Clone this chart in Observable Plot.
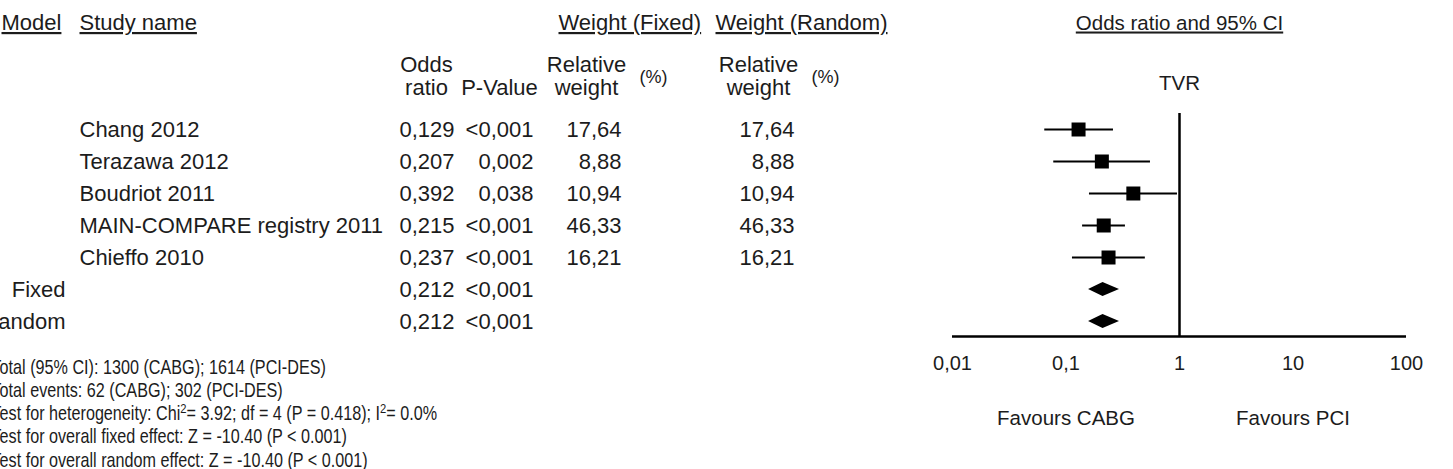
<!DOCTYPE html>
<html><head><meta charset="utf-8">
<script src="https://cdn.jsdelivr.net/npm/d3@7"></script>
<script src="https://cdn.jsdelivr.net/npm/@observablehq/plot@0.6"></script>
<style>
body{margin:0;background:#fff;}
#wrap{display:flex;width:1453px;height:469px;overflow:hidden;background:#fff;}
#wrap svg{display:block;max-width:none;flex:none;}
</style></head><body><div id="wrap"></div>
<script>
// ---------- data ----------
const studies = ["Chang 2012", "Terazawa 2012", "Boudriot 2011", "MAIN-COMPARE registry 2011", "Chieffo 2010"];
const oddsRatio = [0.129, 0.207, 0.392, 0.215, 0.237];
const pValue = ["<0,001", "0,002", "0,038", "<0,001", "<0,001"];
const weightFixed = [17.64, 8.88, 10.94, 46.33, 16.21];
const weightRandom = [17.64, 8.88, 10.94, 46.33, 16.21];
const ciLower = [0.065, 0.078, 0.161, 0.140, 0.114];
const ciUpper = [0.262, 0.555, 0.96, 0.334, 0.50];

const summaryModels = ["Fixed", "Random"];
const summaryOR = [0.212, 0.212];
const summaryP = ["<0,001", "<0,001"];
const summaryLower = [0.158, 0.158];
const summaryUpper = [0.296, 0.296];

const headerLabels = ["Model", "Study name", "Weight (Fixed)", "Weight (Random)"];
const columnTop = ["Odds", "Relative", "Relative"];
const columnBottom = ["ratio", "P-Value", "weight", "weight"];
const unitLabels = ["(%)", "(%)"];
const forestTitle = "Odds ratio and 95% CI";
const outcome = "TVR";
const axisTicks = [0.01, 0.1, 1, 10, 100];
const axisTickLabels = ["0,01", "0,1", "1", "10", "100"];
const favourLabels = ["Favours CABG", "Favours PCI"];
const favourAt = [0.1, 10];
const footerLines = [
  "Total (95% CI): 1300 (CABG); 1614 (PCI-DES)",
  "Total events: 62 (CABG); 302 (PCI-DES)",
  "Test for heterogeneity: Chi\u00B2= 3.92; df = 4 (P = 0.418); I\u00B2= 0.0%",
  "Test for overall fixed effect: Z = -10.40 (P < 0.001)",
  "Test for overall random effect: Z = -10.40 (P < 0.001)"
];

// ---------- layout ----------
const L = {
  headerX: [1, 79, 558, 715],
  topX: [426, 586, 758],
  bottomX: [426, 499, 586, 758],
  unitX: [653, 825],
  modelRight: 65, study: 79, or: 454, p: 533, wf: 621, wr: 794,
  rowHeader: -3.33, rowTop: -2.02, rowBottom: -1.30, rowUnit: -1.63, rowOutcome: -1.45,
  refTop: -0.5, axisRow: 6.47, tickRow: 7.31, favourRow: 9.03,
  footerX: -9, footerRow0: 7.44, footerStep: 0.725, diamondHalf: 0.22,
  footerSqueeze: 0.83
};
const font = "Liberation Sans, Arial, sans-serif";
const ink = "#1c1c1c";

const loc = d3.formatLocale({decimal: ",", thousands: ".", grouping: [3], currency: ["", ""]});
const f3 = loc.format(".3f"), f2 = loc.format(".2f");

const rows = studies.map((s, i) => ({label: s, or: oddsRatio[i], p: pValue[i], wf: weightFixed[i], wr: weightRandom[i], lo: ciLower[i], hi: ciUpper[i], row: i}));
const summ = summaryModels.map((m, i) => ({label: m, or: summaryOR[i], p: summaryP[i], lo: summaryLower[i], hi: summaryUpper[i], row: studies.length + i}));
const allRows = rows.concat(summ);

const yScale = {domain: [0, 6], range: [129, 321], axis: null};
const TS = 22; // table font size

// ---------- table ----------
const table = Plot.plot({
  width: 900, height: 469, margin: 0,
  x: {type: "identity", axis: null},
  y: yScale,
  style: {fontFamily: font, fontSize: TS + "px", color: ink, background: "white"},
  marks: [
    Plot.text(headerLabels, {x: (d, i) => L.headerX[i], y: () => L.rowHeader, text: d => d, textAnchor: "start", fontSize: TS}),
    Plot.text(columnTop, {x: (d, i) => L.topX[i], y: () => L.rowTop, text: d => d, fontSize: TS}),
    Plot.text(columnBottom, {x: (d, i) => L.bottomX[i], y: () => L.rowBottom, text: d => d, fontSize: TS}),
    Plot.text(unitLabels, {x: (d, i) => L.unitX[i], y: () => L.rowUnit, text: d => d, fontSize: 18}),
    Plot.text(rows, {x: () => L.study, y: "row", text: "label", textAnchor: "start", fontSize: TS}),
    Plot.text(summ, {x: () => L.modelRight, y: "row", text: "label", textAnchor: "end", fontSize: TS}),
    Plot.text(allRows, {x: () => L.or, y: "row", text: d => f3(d.or), textAnchor: "end", fontSize: TS}),
    Plot.text(allRows, {x: () => L.p, y: "row", text: "p", textAnchor: "end", fontSize: TS}),
    Plot.text(rows, {x: () => L.wf, y: "row", text: d => f2(d.wf), textAnchor: "end", fontSize: TS}),
    Plot.text(rows, {x: () => L.wr, y: "row", text: d => f2(d.wr), textAnchor: "end", fontSize: TS}),
    Plot.text(footerLines, {x: () => L.footerX, y: (d, i) => L.footerRow0 + L.footerStep * i, text: d => d, textAnchor: "start",
      fontSize: 19.5, ariaLabel: "footer"})
  ]
});

// ---------- forest ----------
const diamonds = summ.flatMap(d => [
  {z: d.label, x: d.lo, y1: d.row, y2: d.row},
  {z: d.label, x: d.or, y1: d.row - L.diamondHalf, y2: d.row + L.diamondHalf},
  {z: d.label, x: d.hi, y1: d.row, y2: d.row}
]);

const forest = Plot.plot({
  width: 553, height: 469, margin: 0,
  x: {type: "log", domain: [axisTicks[0], axisTicks[axisTicks.length - 1]], range: [52, 506], axis: null},
  y: yScale,
  style: {fontFamily: font, fontSize: "20.5px", color: ink, background: "white"},
  marks: [
    Plot.text([forestTitle], {x: () => 1, y: () => L.rowHeader, text: d => d, fontSize: 20.5}),
    Plot.text([outcome], {x: () => 1, y: () => L.rowOutcome, text: d => d, fontSize: 20.5}),
    Plot.ruleY([L.axisRow], {x1: () => axisTicks[0], x2: () => axisTicks[axisTicks.length - 1], stroke: "black", strokeWidth: 2.5}),
    Plot.ruleX([1], {y1: () => L.refTop, y2: () => L.axisRow, stroke: "black", strokeWidth: 2.5}),
    Plot.ruleY(rows, {y: "row", x1: "lo", x2: "hi", stroke: "black", strokeWidth: 2}),
    Plot.dot(rows, {x: "or", y: "row", symbol: "square", r: 7.9, fill: "black", stroke: null}),
    Plot.areaY(diamonds, {x: "x", y1: "y1", y2: "y2", z: "z", fill: "black"}),
    Plot.text(axisTicks, {x: d => d, y: () => L.tickRow, text: (d, i) => axisTickLabels[i], fontSize: 20}),
    Plot.text(favourLabels, {x: (d, i) => favourAt[i], y: () => L.favourRow, text: d => d, fontSize: 20.5})
  ]
});

const underline = new Set([...headerLabels, forestTitle]);
for (const svg of [table, forest]) {
  d3.select(svg).selectAll("text").filter(function() { return underline.has(this.textContent); })
    .style("text-decoration", "underline");
}
// footer is set in a narrow face in the reference: condense horizontally, and raise the "2" superscripts
const footerSet = new Set(footerLines);
d3.select(table).selectAll("text").filter(function() { return footerSet.has(this.textContent); })
  .attr("transform", function() { return (this.getAttribute("transform") || "") + ` scale(${L.footerSqueeze},1)`; })
  .each(function() {
    const content = this.textContent;
    if (!content.includes("\u00B2")) return;
    const parts = content.split("\u00B2");
    const t = d3.select(this);
    t.text(null);
    parts.forEach((p, i) => {
      if (i > 0) t.append("tspan").attr("dy", -7).attr("font-size", 13.5).text("2");
      t.append("tspan").attr("dy", i > 0 ? 7 : null).text(p);
    });
  });
document.getElementById("wrap").append(table, forest);
</script></body></html>
